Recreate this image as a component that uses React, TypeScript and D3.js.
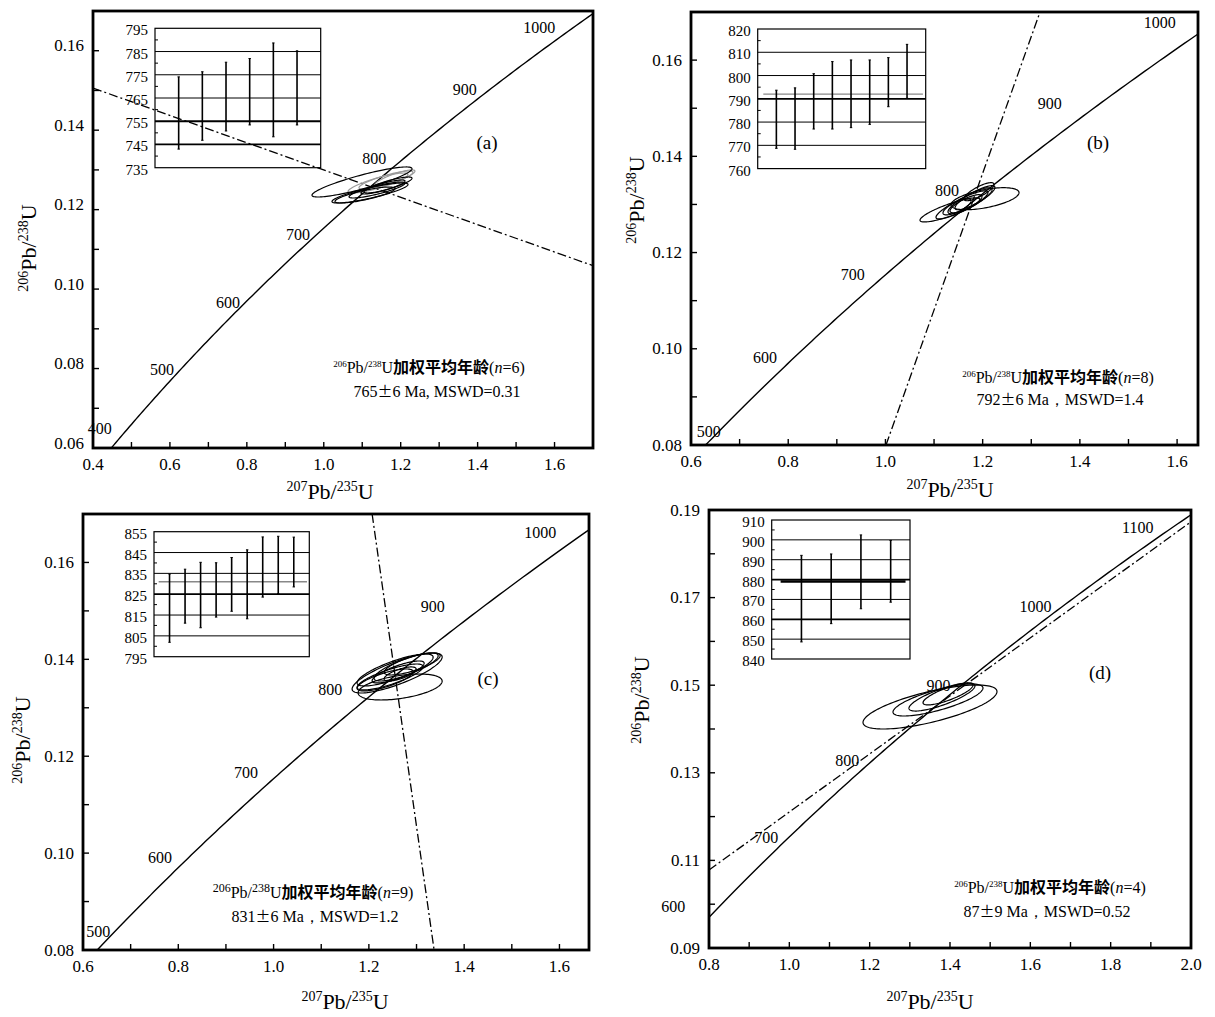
import React from "react";
import * as d3 from "d3";

const SERIF = '"Liberation Serif", "Times New Roman", "DejaVu Serif", serif';
const CJK = '"Noto Sans CJK SC", "Noto Sans CJK JP", sans-serif';

// decay constants per Ma
const LAMBDA_238 = 1.55125e-4;
const LAMBDA_235 = 9.8485e-4;

// ---------------- Panel (a) ----------------
const aXDomain = [0.4, 1.7];
const aYDomain = [0.06, 0.17];
const aXTicks = d3.range(4, 18).map((v) => v / 10);
const aYTicks = d3.range(6, 18).map((v) => v / 100);
const aXTickLabels = [0.4, 0.6, 0.8, 1.0, 1.2, 1.4, 1.6];
const aYTickLabels = [0.06, 0.08, 0.1, 0.12, 0.14, 0.16];
const aAgeLabels = [400, 500, 600, 700, 800, 900, 1000];
const aDiscordia = [[0.4, 0.1506], [1.7, 0.1059]];
// [207/235, sigma, 206/238, sigma, rho, grey]
const aEllipses = [
  [1.1618, 0.0702, 0.12746, 0.00227, 0.85, 1],
  [1.141, 0.078, 0.1267, 0.00252, 0.85, 1],
  [1.185, 0.052, 0.128, 0.002, 0.85, 1],
  [1.0994, 0.13, 0.12696, 0.00378, 0.88, 0],
  [1.1202, 0.0988, 0.12419, 0.00252, 0.85, 0],
  [1.1072, 0.078, 0.12368, 0.00201, 0.8, 0],
  [1.1384, 0.0728, 0.12494, 0.00201, 0.85, 0],
  [1.154, 0.0572, 0.1257, 0.00176, 0.85, 0],
  [1.167, 0.0624, 0.1262, 0.00201, 0.85, 0],
];
const aInsetDomain = [735, 795];
const aInsetTicks = [735, 745, 755, 765, 775, 785, 795];
const aInsetGrid = [745, 755, 765, 775, 785];
const aInsetThick = [745, 755];
const aInsetMinor = [740, 750, 760, 770, 780, 790];
const aInsetLow = [743.0, 746.8, 750.8, 753.4, 748.3, 753.4];
const aInsetHigh = [774.1, 776.3, 780.4, 782.0, 788.7, 785.3];
const aInsetXMax = 7;
const aMean: number | null = null;
const aN = 6;
const aAgeValue = "765";
const aAgeErr = "6 Ma, MSWD=0.31";

// ---------------- Panel (b) ----------------
const bXDomain = [0.6, 1.643];
const bYDomain = [0.08, 0.17];
const bXTicks = d3.range(6, 17).map((v) => v / 10);
const bYTicks = d3.range(8, 18).map((v) => v / 100);
const bXTickLabels = [0.6, 0.8, 1.0, 1.2, 1.4, 1.6];
const bYTickLabels = [0.08, 0.1, 0.12, 0.14, 0.16];
const bAgeLabels = [500, 600, 700, 800, 900, 1000];
const bDiscordia = [[1.0012, 0.08], [1.318, 0.17]];
const bEllipses = [
  [1.2048, 0.07, 0.13119, 0.00229, 0.55, 0],
  [1.1328, 0.0617, 0.12886, 0.0025, 0.85, 0],
  [1.1575, 0.0535, 0.1299, 0.00292, 0.88, 0],
  [1.174, 0.0453, 0.13077, 0.0027, 0.85, 0],
  [1.1842, 0.0411, 0.1314, 0.0025, 0.85, 0],
  [1.1657, 0.0329, 0.13015, 0.00188, 0.8, 0],
  [1.1472, 0.0288, 0.1295, 0.00167, 0.75, 0],
  [1.1925, 0.0309, 0.13265, 0.00188, 0.8, 0],
];
const bInsetDomain = [760, 820];
const bInsetTicks = [760, 770, 780, 790, 800, 810, 820];
const bInsetGrid = [770, 780, 790, 800, 810];
const bInsetThick = [790];
const bInsetMinor = [765, 775, 785, 795, 805, 815];
const bInsetLow = [768.7, 768.3, 777.0, 777.0, 777.6, 779.0, 786.6, 790.2];
const bInsetHigh = [793.7, 794.7, 800.8, 806.0, 806.7, 806.7, 807.7, 813.4];
const bInsetXMax = 9;
const bMean = 792;
const bN = 8;
const bAgeValue = "792";
const bAgeErr = "6  Ma，MSWD=1.4";

// ---------------- Panel (c) ----------------
const cXDomain = [0.6, 1.662];
const cYDomain = [0.08, 0.17];
const cXTicks = d3.range(6, 17).map((v) => v / 10);
const cYTicks = d3.range(8, 18).map((v) => v / 100);
const cXTickLabels = [0.6, 0.8, 1.0, 1.2, 1.4, 1.6];
const cYTickLabels = [0.08, 0.1, 0.12, 0.14, 0.16];
const cAgeLabels = [500, 600, 700, 800, 900, 1000];
const cDiscordia = [[1.2068, 0.17], [1.3369, 0.08]];
const cEllipses = [
  [1.2593, 0.0945, 0.13718, 0.00413, 0.8, 0],
  [1.2656, 0.0882, 0.13429, 0.00268, 0.45, 0],
  [1.2551, 0.0798, 0.1378, 0.0033, 0.8, 0],
  [1.2782, 0.0672, 0.13842, 0.00289, 0.8, 0],
  [1.2446, 0.0693, 0.13636, 0.00268, 0.8, 0],
  [1.2614, 0.0546, 0.13739, 0.00227, 0.8, 0],
  [1.2908, 0.0588, 0.13904, 0.00227, 0.75, 0],
  [1.234, 0.0588, 0.13574, 0.00227, 0.75, 0],
  [1.2656, 0.0336, 0.13698, 0.00145, 0.7, 0],
];
const cInsetDomain = [795, 855];
const cInsetTicks = [795, 805, 815, 825, 835, 845, 855];
const cInsetGrid = [805, 815, 825, 835, 845];
const cInsetThick = [825];
const cInsetMinor = [800, 810, 820, 830, 840, 850];
const cInsetLow = [801.9, 811.1, 808.9, 814.0, 816.8, 813.2, 823.6, 825.3, 828.5];
const cInsetHigh = [834.7, 837.0, 840.3, 840.1, 842.6, 846.3, 852.5, 852.8, 852.4];
const cInsetXMax = 10;
const cMean = 831;
const cN = 9;
const cAgeValue = "831";
const cAgeErr = "6 Ma，MSWD=1.2";

// ---------------- Panel (d) ----------------
const dXDomain = [0.8, 2.0];
const dYDomain = [0.09, 0.19];
const dXTicks = d3.range(8, 21).map((v) => v / 10);
const dYTicks = d3.range(9, 20).map((v) => v / 100);
const dXTickLabels = [0.8, 1.0, 1.2, 1.4, 1.6, 1.8, 2.0];
const dYTickLabels = [0.09, 0.11, 0.13, 0.15, 0.17, 0.19];
const dAgeLabels = [600, 700, 800, 900, 1000, 1100];
const dDiscordia = [[0.8, 0.1078], [2.0, 0.1873]];
const dEllipses = [
  [1.3502, 0.1668, 0.14502, 0.00502, 0.7, 0],
  [1.3701, 0.112, 0.14662, 0.00365, 0.75, 0],
  [1.38, 0.0822, 0.1473, 0.0032, 0.8, 0],
  [1.395, 0.0622, 0.148, 0.0025, 0.8, 0],
];
const dInsetDomain = [840, 910];
const dInsetTicks = [840, 850, 860, 870, 880, 890, 900, 910];
const dInsetGrid = [850, 860, 870, 880, 890, 900];
const dInsetThick = [860, 880];
const dInsetMinor = [845, 855, 865, 875, 885, 895, 905];
const dInsetLow = [848.6, 857.8, 865.3, 868.6];
const dInsetHigh = [892.2, 892.9, 902.5, 899.7];
const dInsetXMax = 4.65;
const dMean = 879;
const dN = 4;
const dAgeValue = "87";
const dAgeErr = "9 Ma，MSWD=0.52";

// ---------------- layout (positions & styles) ----------------
const layouts: any = {
  a: {
    frame: [93, 11, 593, 448], inset: [155, 28.3, 320.7, 167.7],
    ageOffsets: [[-25, -4], [-22, 4], [-21, 4], [-23, 4], [-26, -3], [-23, -2], [-45, 8]],
    yLabelShift: -5, tag: [487, 142], note1: [429, 367], note2: [437, 391],
    xTitle: [330, 491], yTitle: [28, 248], noteSup: 9, meanColor: "#888", meanWidth: 1.2,
  },
  b: {
    frame: [691, 12, 1198, 445], inset: [757.7, 29, 925.7, 168.6],
    ageOffsets: [[0, -10], [-26, -3], [-29, -4], [-35, -4], [-43, -6], [-55, 0]],
    yLabelShift: 0, tag: [1098, 142], note1: [1058, 377], note2: [1060, 399],
    xTitle: [950, 489], yTitle: [636, 200], noteSup: 9, meanColor: "#888", meanWidth: 1.4,
  },
  c: {
    frame: [83, 514, 589, 950], inset: [154, 531.7, 309.3, 656.7],
    ageOffsets: [[-2, -15], [-21, -8], [-24, -9], [-38, -8], [-44, -5], [-56, 8]],
    yLabelShift: 0, tag: [488, 678], note1: [313, 892], note2: [315, 916],
    xTitle: [345, 1001], yTitle: [22, 740], noteSup: 12, meanColor: "#888", meanWidth: 1.4,
  },
  d: {
    frame: [709, 510, 1191, 948], inset: [771.7, 520, 910, 659],
    ageOffsets: [[-38, -8], [-20, -2], [-22, -3], [-22, 0], [-26, -1], [-35, 0]],
    yLabelShift: 0, tag: [1100, 672], note1: [1050, 887], note2: [1047, 911],
    xTitle: [930, 1001], yTitle: [641, 700], noteSup: 9, meanColor: "#000", meanWidth: 2.4,
  },
};

const panels = [
  {
    id: "a", xDomain: aXDomain, yDomain: aYDomain, xTicks: aXTicks, yTicks: aYTicks,
    xTickLabels: aXTickLabels, yTickLabels: aYTickLabels, ages: aAgeLabels, discordia: aDiscordia,
    ellipses: aEllipses, insetDomain: aInsetDomain, insetTicks: aInsetTicks, insetGrid: aInsetGrid,
    insetThick: aInsetThick, insetMinor: aInsetMinor, insetLow: aInsetLow, insetHigh: aInsetHigh,
    insetXMax: aInsetXMax, mean: aMean, n: aN, ageValue: aAgeValue, ageErr: aAgeErr,
  },
  {
    id: "b", xDomain: bXDomain, yDomain: bYDomain, xTicks: bXTicks, yTicks: bYTicks,
    xTickLabels: bXTickLabels, yTickLabels: bYTickLabels, ages: bAgeLabels, discordia: bDiscordia,
    ellipses: bEllipses, insetDomain: bInsetDomain, insetTicks: bInsetTicks, insetGrid: bInsetGrid,
    insetThick: bInsetThick, insetMinor: bInsetMinor, insetLow: bInsetLow, insetHigh: bInsetHigh,
    insetXMax: bInsetXMax, mean: bMean, n: bN, ageValue: bAgeValue, ageErr: bAgeErr,
  },
  {
    id: "c", xDomain: cXDomain, yDomain: cYDomain, xTicks: cXTicks, yTicks: cYTicks,
    xTickLabels: cXTickLabels, yTickLabels: cYTickLabels, ages: cAgeLabels, discordia: cDiscordia,
    ellipses: cEllipses, insetDomain: cInsetDomain, insetTicks: cInsetTicks, insetGrid: cInsetGrid,
    insetThick: cInsetThick, insetMinor: cInsetMinor, insetLow: cInsetLow, insetHigh: cInsetHigh,
    insetXMax: cInsetXMax, mean: cMean, n: cN, ageValue: cAgeValue, ageErr: cAgeErr,
  },
  {
    id: "d", xDomain: dXDomain, yDomain: dYDomain, xTicks: dXTicks, yTicks: dYTicks,
    xTickLabels: dXTickLabels, yTickLabels: dYTickLabels, ages: dAgeLabels, discordia: dDiscordia,
    ellipses: dEllipses, insetDomain: dInsetDomain, insetTicks: dInsetTicks, insetGrid: dInsetGrid,
    insetThick: dInsetThick, insetMinor: dInsetMinor, insetLow: dInsetLow, insetHigh: dInsetHigh,
    insetXMax: dInsetXMax, mean: dMean, n: dN, ageValue: dAgeValue, ageErr: dAgeErr,
  },
];

function concordiaRatios(ageMa: number): [number, number] {
  return [Math.expm1(LAMBDA_235 * ageMa), Math.expm1(LAMBDA_238 * ageMa)];
}

function RatioTitle({ x, y, top, el, bottom, el2, rotate }: any) {
  const size = 22;
  const sup = 14;
  return (
    <text
      x={x}
      y={y}
      textAnchor="middle"
      fontFamily={SERIF}
      fontSize={size}
      transform={rotate ? `rotate(-90 ${x} ${y})` : undefined}
    >
      <tspan fontSize={sup} dy={-8}>{top}</tspan>
      <tspan dy={8}>{el}</tspan>
      <tspan fontSize={sup} dy={-8}>{bottom}</tspan>
      <tspan dy={8}>{el2}</tspan>
    </text>
  );
}

function Panel({ p }: any) {
  const L = layouts[p.id];
  const [fl, ft, fr, fb] = L.frame;
  const x = d3.scaleLinear().domain(p.xDomain).range([fl, fr]);
  const y = d3.scaleLinear().domain(p.yDomain).range([fb, ft]);
  const clip = "clip-" + p.id;
  const line = d3.line();

  const concPts = d3.range(0, 1400, 4).map((t) => {
    const [rx, ry] = concordiaRatios(t);
    return [x(rx), y(ry)] as [number, number];
  });

  const ellPath = (e: number[]) => {
    const [cx, sx, cy, sy, rho] = e;
    const k = Math.sqrt(1 - rho * rho);
    const pts = d3.range(0, 360, 3).map((deg) => {
      const a = (deg * Math.PI) / 180;
      return [x(cx + sx * Math.cos(a)), y(cy + sy * (rho * Math.cos(a) + k * Math.sin(a)))] as [number, number];
    });
    return d3.line().curve(d3.curveLinearClosed)(pts) || "";
  };

  const fx = d3.format(".1f");
  const fy = d3.format(".2f");

  // inset
  const [il, it, ir, ib] = L.inset;
  const iy = d3.scaleLinear().domain(p.insetDomain).range([ib, it]);
  const ix = d3.scaleLinear().domain([0, p.insetXMax]).range([il, ir]);

  const sup = L.noteSup;

  return (
    <g>
      <defs>
        <clipPath id={clip}>
          <rect x={fl} y={ft} width={fr - fl} height={fb - ft} />
        </clipPath>
      </defs>

      {/* inset */}
      <g>
        {p.insetGrid.map((v: number) => (
          <line
            key={"g" + v}
            x1={il}
            x2={ir}
            y1={iy(v)}
            y2={iy(v)}
            stroke="#000"
            strokeWidth={p.insetThick.includes(v) ? 1.8 : 1}
          />
        ))}
        {p.insetMinor.map((v: number) => (
          <line key={"m" + v} x1={il} x2={il + 3} y1={iy(v)} y2={iy(v)} stroke="#000" strokeWidth={1} />
        ))}
        {p.mean !== null && (
          <line
            x1={ix(0.3)}
            x2={ix(p.insetXMax - 0.15)}
            y1={iy(p.mean)}
            y2={iy(p.mean)}
            stroke={L.meanColor}
            strokeWidth={L.meanWidth}
          />
        )}
        {p.insetLow.map((lo: number, i: number) => (
          <g key={"bar" + i}>
            <line x1={ix(i + 1)} x2={ix(i + 1)} y1={iy(lo)} y2={iy(p.insetHigh[i])} stroke="#000" strokeWidth={1.6} />
            <line x1={ix(i + 1) - 1.2} x2={ix(i + 1) + 1.2} y1={iy(lo)} y2={iy(lo)} stroke="#000" strokeWidth={1} />
            <line
              x1={ix(i + 1) - 1.2}
              x2={ix(i + 1) + 1.2}
              y1={iy(p.insetHigh[i])}
              y2={iy(p.insetHigh[i])}
              stroke="#000"
              strokeWidth={1}
            />
          </g>
        ))}
        <rect x={il} y={it} width={ir - il} height={ib - it} fill="none" stroke="#000" strokeWidth={1.2} />
        {p.insetTicks.map((v: number) => (
          <text
            key={"il" + v}
            x={il - 7}
            y={iy(v) + 2}
            textAnchor="end"
            dominantBaseline="central"
            fontFamily={SERIF}
            fontSize={15}
          >
            {v}
          </text>
        ))}
      </g>

      {/* curves */}
      <g clipPath={`url(#${clip})`}>
        <path d={line(concPts) || ""} fill="none" stroke="#000" strokeWidth={1.4} />
        <path
          d={line(p.discordia.map((d: number[]) => [x(d[0]), y(d[1])] as [number, number])) || ""}
          fill="none"
          stroke="#000"
          strokeWidth={1.3}
          strokeDasharray="9 3 2 3"
        />
        {p.ellipses.map((e: number[], i: number) => (
          <path
            key={"e" + i}
            d={ellPath(e)}
            fill="none"
            stroke={e[5] ? "#9a9a9a" : "#000"}
            strokeWidth={1.2}
          />
        ))}
      </g>

      {/* age labels */}
      {p.ages.map((t: number, i: number) => {
        const [rx, ry] = concordiaRatios(t);
        const [dx, dy] = L.ageOffsets[i];
        return (
          <text
            key={"age" + t}
            x={x(rx) + dx}
            y={y(ry) + dy}
            textAnchor="middle"
            dominantBaseline="central"
            fontFamily={SERIF}
            fontSize={16}
          >
            {t}
          </text>
        );
      })}

      {/* axes ticks */}
      {p.xTicks.map((v: number) => (
        <line key={"xt" + v} x1={x(v)} x2={x(v)} y1={fb} y2={fb - 6} stroke="#000" strokeWidth={1.4} />
      ))}
      {p.yTicks.map((v: number) => (
        <line key={"yt" + v} x1={fl} x2={fl + 6} y1={y(v)} y2={y(v)} stroke="#000" strokeWidth={1.4} />
      ))}
      {p.xTickLabels.map((v: number) => (
        <text
          key={"xl" + v}
          x={x(v)}
          y={fb + 16}
          textAnchor="middle"
          dominantBaseline="central"
          fontFamily={SERIF}
          fontSize={17}
        >
          {fx(v)}
        </text>
      ))}
      {p.yTickLabels.map((v: number) => (
        <text
          key={"yl" + v}
          x={fl - 9}
          y={y(v) + L.yLabelShift}
          textAnchor="end"
          dominantBaseline="central"
          fontFamily={SERIF}
          fontSize={17}
        >
          {fy(v)}
        </text>
      ))}

      {/* frame */}
      <rect x={fl} y={ft} width={fr - fl} height={fb - ft} fill="none" stroke="#000" strokeWidth={2.8} />

      {/* panel tag */}
      <text x={L.tag[0]} y={L.tag[1]} textAnchor="middle" dominantBaseline="central" fontFamily={SERIF} fontSize={19}>
        ({p.id})
      </text>

      {/* notes */}
      <text x={L.note1[0]} y={L.note1[1] + 6} textAnchor="middle" fontFamily={SERIF} fontSize={16}>
        <tspan fontSize={sup} dy={-6}>206</tspan>
        <tspan dy={6}>Pb/</tspan>
        <tspan fontSize={sup} dy={-6}>238</tspan>
        <tspan dy={6}>U</tspan>
        <tspan fontFamily={CJK} fontWeight={700} fontSize={16}>加权平均年龄</tspan>
        <tspan>(</tspan>
        <tspan fontStyle="italic">n</tspan>
        <tspan>={p.n})</tspan>
      </text>
      <text x={L.note2[0]} y={L.note2[1] + 6} textAnchor="middle" fontFamily={SERIF} fontSize={16}>
        <tspan>{p.ageValue}</tspan>
        <tspan fontFamily={CJK} fontSize={15}>±</tspan>
        <tspan>{p.ageErr}</tspan>
      </text>

      {/* titles */}
      <RatioTitle x={L.xTitle[0]} y={L.xTitle[1] + 8} top="207" el="Pb/" bottom="235" el2="U" />
      <RatioTitle x={L.yTitle[0] + 8} y={L.yTitle[1]} top="206" el="Pb/" bottom="238" el2="U" rotate />
    </g>
  );
}

export default function App() {
  return (
    <div style={{ position: "absolute", left: 0, top: 0 }}>
      <svg width={1215} height={1017} viewBox="0 0 1215 1017" style={{ display: "block", background: "#fff" }}>
        <rect x={0} y={0} width={1215} height={1017} fill="#fff" />
        {panels.map((p) => (
          <Panel key={p.id} p={p} />
        ))}
      </svg>
    </div>
  );
}
